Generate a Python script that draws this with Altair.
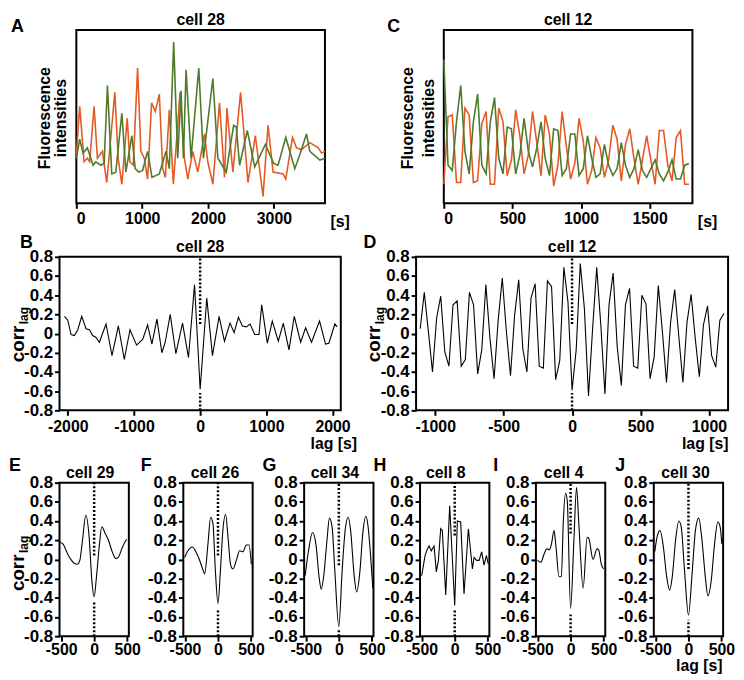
import altair as alt
import pandas as pd

FONT = "Liberation Sans"
GREEN = "#4e7b2b"
ORANGE = "#e45a25"

# ---------------- Panel A : cell 28 fluorescence traces ----------------
a_green_t = [0, 51, 102, 168, 203, 254, 295, 371, 422, 472, 538, 599, 691, 752, 843, 894, 945, 1006, 1082, 1148,
             1260, 1361, 1412, 1478, 1539, 1590, 1626, 1666, 1742, 1859, 1930, 2073, 2149, 2276, 2388, 2428, 2479,
             2596, 2708, 2870, 2997, 3063, 3180, 3317, 3393, 3495, 3546, 3698, 3774]
a_green_v = [26, 37, 29, 32, 28, 22, 24, 22, 23, 68, 17, 18, 52, 18, 39, 20, 18, 19, 30, 15,
             17, 30, 20, 93, 26, 65, 26, 77, 26, 78, 26, 72, 26, 18, 45, 44, 22,
             42, 21, 34, 23, 22, 38, 20, 28, 40, 30, 25, 26]
a_orange_t = [0, 51, 117, 168, 203, 269, 320, 396, 462, 584, 635, 691, 772, 813, 864, 930, 980, 1031, 1082, 1143,
              1199, 1260, 1311, 1351, 1412, 1473, 1575, 1641, 1692, 1768, 1844, 1946, 1996, 2073, 2174, 2250, 2286,
              2377, 2494, 2606, 2718, 2835, 2911, 2987, 3139, 3180, 3282, 3343, 3419, 3546, 3673, 3724, 3774]
a_orange_v = [28, 56, 24, 26, 24, 56, 26, 30, 12, 64, 26, 11, 49, 24, 22, 78, 30, 26, 14, 58,
              53, 63, 20, 15, 54, 11, 64, 26, 14, 30, 18, 40, 24, 11, 58, 15, 55,
              18, 64, 12, 39, 4, 45, 18, 17, 14, 38, 32, 31, 35, 32, 29, 30]

# ---------------- Panel C : cell 12 fluorescence traces ----------------
c_frame_interval_s = 30.8
c_green_v = [83, 22, 19, 47, 68, 30, 17, 47, 63, 22, 17, 47, 61, 26, 17, 44, 43, 17, 28, 49,
             30, 21, 32, 47, 26, 16, 43, 42, 16, 20, 40, 40, 16, 20, 39, 26, 15, 17, 34, 22,
             16, 20, 35, 22, 15, 20, 31, 19, 15, 20, 25, 17, 13, 18, 25, 14, 14, 22, 23]
c_orange_v = [11, 50, 51, 12, 12, 55, 51, 12, 13, 46, 53, 11, 11, 55, 47, 16, 25, 54, 39, 17,
              28, 53, 35, 16, 51, 40, 10, 22, 53, 33, 14, 23, 49, 36, 11, 19, 38, 32, 15, 25,
              45, 37, 13, 34, 43, 26, 11, 25, 39, 25, 11, 42, 42, 22, 13, 38, 42, 11, 11]
c_time = [round(i * c_frame_interval_s, 1) for i in range(len(c_green_v))]

# ---------------- Panel B : cell 28 cross-correlation ----------------
b_lag = [-2050, -2000, -1950, -1900, -1849, -1789, -1724, -1673, -1623, -1573, -1523, -1422, -1332, -1236, -1146,
         -1060, -960, -869, -794, -729, -653, -578, -528, -452, -367, -266, -176, -85, 0, 100, 186, 286, 367, 452,
         513, 578, 638, 698, 754, 824, 889, 930, 1015, 1090, 1181, 1256, 1342, 1422, 1518, 1593, 1683, 1804, 1894,
         1945, 2035, 2070]
b_corr = [0.18, 0.14, -0.01, -0.02, 0.04, 0.18, 0.05, 0.04, -0.02, -0.04, -0.09, 0.10, -0.23, 0.08, -0.27,
          0.04, -0.12, -0.06, 0.09, -0.11, 0.15, -0.20, -0.09, 0.20, -0.21, 0.11, -0.25, 0.51, -0.58, 0.37, -0.23,
          0.18, -0.08, 0.11, 0.01, 0.17, 0.08, 0.07, 0.10, -0.01, -0.01, 0.30, -0.10, 0.13, -0.08, 0.11, -0.17,
          0.18, -0.09, 0.06, -0.09, 0.13, -0.11, -0.10, 0.10, 0.07]

# ---------------- Panel D : cell 12 cross-correlation ----------------
d_lag_step_s = 30
d_corr = [0.05, 0.43, 0.02, -0.40, 0.16, 0.39, -0.19, -0.34, 0.30, 0.34,
          -0.34, -0.27, 0.43, 0.30, -0.42, -0.17, 0.51, -0.05, -0.47, 0.14,
          0.58, 0.02, -0.44, 0.19, 0.56, -0.16, -0.40, 0.37, 0.52, -0.34,
          -0.36, 0.55, 0.49, -0.48, -0.28, 0.69, 0.33, -0.59, -0.17, 0.73,
          0.26, -0.65, 0.05, 0.69, 0.09, -0.63, 0.30, 0.63, -0.14, -0.54,
          0.30, 0.47, -0.34, -0.36, 0.40, 0.31, -0.47, -0.24, 0.50, 0.02,
          -0.51, 0.12, 0.46, -0.03, -0.51, 0.12, 0.41, -0.05, -0.45, 0.09,
          0.29, -0.23, -0.35, 0.14, 0.21]
d_lag = [(i - len(d_corr) // 2) * d_lag_step_s for i in range(len(d_corr))]

# ---------------- Panels E-J ----------------
e_lag = [-515, -470, -404, -354, -303, -253, -217, -177, -126, -76, -35, 0, 35, 76, 116, 167, 217, 268, 328, 364, 429, 490]
e_corr = [0.18, 0.16, 0.06, 0.0, -0.04, -0.05, -0.01, 0.2, 0.46, 0.23, -0.22, -0.39, -0.18, 0.13, 0.34, 0.27, 0.2,
          0.09, 0.01, 0.02, 0.13, 0.21]
f_lag = [-505, -455, -389, -328, -288, -227, -202, -152, -111, -76, -40, 0, 40, 76, 116, 152, 192, 227, 278, 328,
         379, 429, 470, 505]
f_corr = [0.02, 0.09, 0.13, 0.07, 0.01, -0.11, -0.15, 0.16, 0.44, 0.37, -0.11, -0.46, -0.08, 0.32, 0.47, 0.23,
          -0.06, -0.10, -0.01, 0.09, 0.08, 0.15, 0.15, -0.05]
g_lag = [-510, -459, -398, -347, -296, -265, -230, -179, -143, -102, -61, 0, 51, 102, 143, 179, 230, 270, 316, 367,
         408, 440, 480, 515]
g_corr = [-0.17, 0.09, 0.28, 0.16, -0.2, -0.31, -0.18, 0.2, 0.43, 0.34, -0.11, -0.7, -0.11, 0.34, 0.44, 0.3, -0.15,
          -0.34, -0.15, 0.3, 0.45, 0.36, 0.05, -0.3]
h_lag = [-500, -449, -414, -389, -354, -313, -278, -247, -212, -187, -136, -76, 0, 40, 91, 141, 207, 268, 293, 333,
         369, 409, 444, 480, 510]
h_corr = [-0.17, 0.04, 0.11, 0.14, 0.09, 0.14, -0.13, -0.01, 0.32, 0.30, -0.37, 0.56, -0.48, 0.40, 0.39, -0.36,
          0.32, -0.10, 0.02, -0.01, -0.01, 0.08, -0.06, 0.04, -0.05]
i_lag = [-500, -450, -400, -360, -320, -290, -250, -225, -175, -140, -110, -75, -50, 0, 50, 90, 125, 190, 250, 275,
         340, 400, 425, 465, 500]
i_corr = [-0.01, -0.03, 0.06, 0.11, 0.10, 0.16, 0.30, 0.16, -0.18, -0.18, 0.40, 0.69, 0.61, -0.51, 0.20, 0.75,
          0.37, -0.30, 0.23, 0.22, 0.0, 0.11, 0.10, -0.05, -0.10]
j_lag = [-510, -470, -430, -380, -330, -285, -245, -195, -145, -110, -60, 0, 55, 105, 155, 205, 255, 295, 345, 395,
         445, 480, 505]
j_corr = [0.08, 0.25, 0.3, 0.13, -0.18, -0.32, -0.18, 0.2, 0.4, 0.34, -0.11, -0.58, -0.15, 0.3, 0.43, 0.2, -0.18,
          -0.38, -0.22, 0.16, 0.39, 0.34, 0.16]

# dotted zero-lag marker: (upper segment lower end, lower segment upper end)
dot_gap = {"B": (0.10, -0.62), "D": (0.10, -0.62), "E": (0.04, -0.45), "F": (0.04, -0.53),
           "G": (-0.06, -0.72), "H": (0.25, -0.53), "I": (0.27, -0.56), "J": (-0.10, -0.63)}

Y_TICKS = [-0.8, -0.6, -0.4, -0.2, 0, 0.2, 0.4, 0.6, 0.8]
Y_LABEL = "abs(datum.value) < 0.001 ? '0' : (datum.value < 0 ? '-' : '') + format(abs(datum.value), '.1f')"
X_LABEL = "(datum.value < 0 ? '-' : '') + abs(datum.value)"


def one_row(**kw):
    return pd.DataFrame({k: [v] for k, v in kw.items()})


def text_layer(txt, dx, dy, size, align="left", baseline="top", angle=0):
    kw = dict(align=align, baseline=baseline, font=FONT, fontSize=size, fontWeight="bold", color="black")
    if angle:
        kw["angle"] = angle
    return alt.Chart(one_row(t=txt)).mark_text(**kw).encode(text="t:N", x=alt.value(dx), y=alt.value(dy))


def gap(w, h):
    """Invisible spacer cell used to set the horizontal gaps between panels."""
    return alt.Chart(one_row(t=1)).mark_point(opacity=0, size=1).encode(
        x=alt.value(0), y=alt.value(0)).properties(width=w, height=h, view=alt.ViewBackground(strokeOpacity=0))


def title_layer(txt, width, dx=0):
    return text_layer(txt, width / 2 + dx, -5, 16, align="center", baseline="alphabetic")


def corr_label_layers(ycenter):
    return [text_layer("corr", -36, ycenter, 19, align="center", baseline="alphabetic", angle=270),
            text_layer("lag", -32, ycenter - 20, 12, align="left", baseline="alphabetic", angle=270)]


def trace_panel(tg, vg, to, vo, xmax, xticks, title, letter, letter_dx, width, line1_dx):
    g = pd.DataFrame({"t": tg, "v": vg})
    o = pd.DataFrame({"t": to, "v": vo})
    xs = alt.Scale(domain=[0, xmax], nice=False, zero=False)
    ys = alt.Scale(domain=[0, 100], nice=False, zero=False)
    xaxis = alt.Axis(values=xticks, format="d", title="[s]", titleX=width + 5, titleY=23, titleAlign="left",
                     titleBaseline="alphabetic", titleAngle=0, labelPadding=2, labelFontSize=16)
    yaxis = alt.Axis(labels=False, ticks=False, title=None)
    xenc = alt.X("t:Q", scale=xs, axis=xaxis)
    yenc = alt.Y("v:Q", scale=ys, axis=yaxis)
    orange = alt.Chart(o).mark_line(color=ORANGE, strokeWidth=1.6).encode(x=xenc, y=yenc)
    green = alt.Chart(g).mark_line(color=GREEN, strokeWidth=1.6).encode(x=xenc, y=yenc)
    layers = [orange, green,
              text_layer("Fluorescence", line1_dx, 89, 16, align="center", baseline="alphabetic", angle=270),
              text_layer("intensities", -10, 89, 16, align="center", baseline="alphabetic", angle=270),
              text_layer(letter, letter_dx, -12, 18), title_layer(title, width)]
    return alt.layer(*layers).properties(width=width, height=175)


def corr_panel(lags, vals, key, title, letter_dx, letter_dy, width, xdom, xticks, interp,
               corr_label=None, xtitle=None, title_dx=0, label_pad=3):
    df = pd.DataFrame({"lag": lags, "corr": vals})
    top_lo, bot_hi = dot_gap[key]
    dots = pd.DataFrame({"lag": [0, 0], "corr": [top_lo, -0.8], "corr_end": [0.8, bot_hi]})
    xs = alt.Scale(domain=xdom, nice=False, zero=False)
    ys = alt.Scale(domain=[-0.8, 0.8], nice=False, zero=False)
    if xtitle is not None:
        xaxis = alt.Axis(values=xticks, labelExpr=X_LABEL, labelPadding=label_pad, labelFontSize=16,
                         title="lag [s]", titleX=xtitle[0], titleY=xtitle[1], titleAlign="right",
                         titleBaseline="alphabetic", titleAngle=0)
    else:
        xaxis = alt.Axis(values=xticks, labelExpr=X_LABEL, labelPadding=label_pad, labelFontSize=16, title=None)
    yaxis = alt.Axis(values=Y_TICKS, labelExpr=Y_LABEL, labelPadding=2, labelFontSize=17, title=None)
    xenc = alt.X("lag:Q", scale=xs, axis=xaxis)
    yenc = alt.Y("corr:Q", scale=ys, axis=yaxis)
    line = alt.Chart(df).mark_line(color="black", strokeWidth=1.1, interpolate=interp).encode(x=xenc, y=yenc)
    rule = alt.Chart(dots).mark_rule(color="black", strokeWidth=2.5, strokeDash=[2, 2]).encode(
        x=xenc, y=yenc, y2="corr_end:Q")
    layers = [line, rule, text_layer(key, letter_dx, letter_dy, 18), title_layer(title, width, title_dx)]
    if corr_label is not None:
        layers += corr_label_layers(corr_label)
    return alt.layer(*layers).properties(width=width, height=155)


# ---------------- assemble ----------------
pA = trace_panel(a_green_t, a_green_v, a_orange_t, a_orange_v, 3775, [0, 1000, 2000, 3000],
                 "cell 28", "A", -66, 251, -27)
pC = trace_panel(c_time, c_green_v, c_time, c_orange_v, 1812, [0, 500, 1000, 1500],
                 "cell 12", "C", -57, 251, -31)
row1 = alt.hconcat(gap(17, 10), pA, gap(120, 10), pC, spacing=0, bounds="flush")

pB = corr_panel(b_lag, b_corr, "B", "cell 28", -40, -23, 284, [-2125, 2125],
                [-2000, -1000, 0, 1000, 2000], "linear", corr_label=88, xtitle=(300, 39))
pD = corr_panel(d_lag, d_corr, "D", "cell 12", -53, -23, 315, [-1140, 1140],
                [-1000, -500, 0, 500, 1000], "linear", corr_label=88, xtitle=(315, 39))
row2 = alt.hconcat(pB, gap(76, 10), pD, spacing=0, bounds="flush")

small = [
    (e_lag, e_corr, "E", "cell 29", -51, "monotone", -4),
    (f_lag, f_corr, "F", "cell 26", -43, "monotone", -3),
    (g_lag, g_corr, "G", "cell 34", -42, "monotone", -4),
    (h_lag, h_corr, "H", "cell 8", -47, "linear", -9),
    (i_lag, i_corr, "I", "cell 4", -43, "monotone", -7),
    (j_lag, j_corr, "J", "cell 30", -39, "monotone", -3),
]
row3_gaps = [54.5, 51.5, 46.5, 46.5, 48.5]
row3_items = []
for n, (lg, cv, key, ttl, ldx, interp, tdx) in enumerate(small):
    if n > 0:
        row3_items.append(gap(row3_gaps[n - 1], 10))
    row3_items.append(corr_panel(
        lg, cv, key, ttl, ldx, -26, 70, [-525, 525], [-500, 0, 500], interp,
        corr_label=91 if key == "E" else None,
        xtitle=(69, 35) if key == "J" else None, title_dx=tdx, label_pad=0))
row3 = alt.hconcat(*row3_items, spacing=0, bounds="flush")

chart = alt.vconcat(row1, row2, row3, spacing=3).properties(padding=0).configure_axis(
    labelFont=FONT, labelFontWeight="bold", labelColor="black",
    titleFont=FONT, titleFontSize=16, titleFontWeight="bold", titleColor="black",
    tickColor="black", tickWidth=2, tickSize=5, domain=False, grid=False
).configure_view(stroke="black", strokeWidth=2)

chart.save("out.html", embed_options={"renderer": "svg", "actions": False})
